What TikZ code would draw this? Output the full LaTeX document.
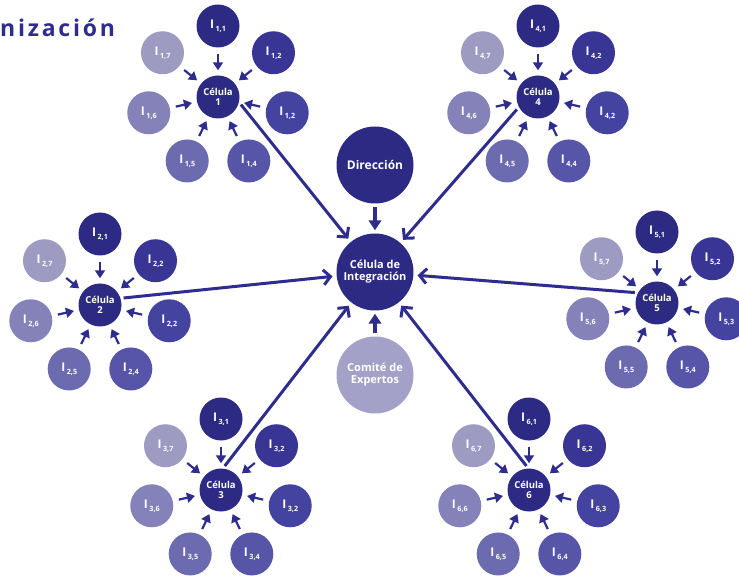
\documentclass[tikz,border=0pt]{standalone}
\usepackage{fontspec}
\setmainfont{Open Sans}
\newfontfamily\titlefont[LetterSpace=12]{Open Sans}
\usetikzlibrary{arrows.meta,calc}
\definecolor{navy}{HTML}{2D2A84}
\definecolor{sA}{HTML}{2D2A84}
\definecolor{sB}{HTML}{383594}
\definecolor{sC}{HTML}{4543A0}
\definecolor{sD}{HTML}{5755A8}
\definecolor{sE}{HTML}{6D6BB0}
\definecolor{sF}{HTML}{8482B8}
\definecolor{sG}{HTML}{9D9BC1}
\definecolor{comite}{HTML}{A3A1C8}
\definecolor{linec}{HTML}{2E2C8C}
\newcommand{\satlbl}[2]{I\kern1.6pt\raisebox{-3pt}{\fontsize{7.2}{8}\selectfont #1,#2}}
\tikzset{
  bub/.style={circle, minimum size=43pt, inner sep=0pt, text=white,
    font=\bfseries\fontsize{12}{13}\selectfont},
  cellnode/.style={bub, fill=navy, align=center,
    font=\bfseries\fontsize{9.5}{10}\selectfont},
  bignode/.style={circle, minimum size=77pt, inner sep=0pt, text=white,
    align=center, font=\bfseries\fontsize{11}{12}\selectfont},
  feed/.style={draw=linec, line width=2.2pt, -{Triangle[length=8pt,width=10pt]},
    shorten <=6pt, shorten >=5pt},
  link/.style={draw=linec, line width=3pt,
    -{Straight Barb[length=7pt,width=15pt]}, shorten <=3pt, shorten >=4pt},
  mainfeed/.style={draw=linec, line width=3.5pt,
    -{Triangle[length=10pt,width=12.5pt]}, shorten <=3pt, shorten >=3pt}
}
\newcommand{\cluster}[4]{%
  \node[cellnode] (c#1) at (#2,#3) {Célula\\#1};
  \foreach \j/\col/\idx in {1/sA/1,2/sB/2,3/sC/#4,4/sD/4,5/sE/5,6/sF/6,7/sG/7}{
    \node[bub, fill=\col] (s#1-\j) at ($(c#1)+({90-(\j-1)*360/7}:71pt)$) {\satlbl{#1}{\idx}};
    \draw[feed] (s#1-\j) -- (c#1);
  }%
}
\begin{document}
\begin{tikzpicture}[x=1pt,y=-1pt]
  \useasboundingbox (0,0) rectangle (739,577);
  \fill[white] (0,0) rectangle (739,577);
  \node[anchor=base west, inner sep=0pt, text=linec,
    font=\titlefont\bfseries\fontsize{23}{26}\selectfont] (title) at (0,37) {nización};

  \node[bignode, fill=navy] (ci) at (375,272) {Célula de\\Integración};
  \node[bignode, fill=navy, font=\bfseries\fontsize{12}{13}\selectfont] (dir) at (375,165) {Dirección};
  \node[bignode, fill=comite] (com) at (375,375) {Comité de\\Expertos};
  \draw[mainfeed] (dir) -- (ci);
  \draw[mainfeed] (com) -- (ci);

  \cluster{1}{218}{97}{2}
  \cluster{2}{100}{305}{2}
  \cluster{3}{221}{490}{2}
  \cluster{4}{538}{97}{2}
  \cluster{5}{657}{303}{3}
  \cluster{6}{529}{490}{3}

  \draw[link] (c1.-14) -- (ci);
  \draw[link] (c2.18) -- (ci);
  \draw[link] (c3.85) -- (ci);
  \draw[link] (c4.-152) -- (ci);
  \draw[link] (c5.152) -- (ci);
  \draw[link] (c6.92) -- (ci);
\end{tikzpicture}
\end{document}
